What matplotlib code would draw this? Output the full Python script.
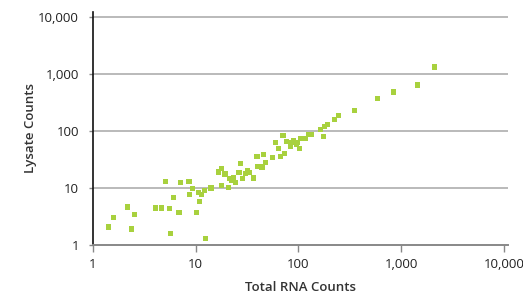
import matplotlib
matplotlib.use("Agg")
import matplotlib.pyplot as plt
from matplotlib.ticker import FixedLocator, NullLocator

# Total RNA counts (x) vs lysate counts (y)
rna_counts = [1.42, 1.59, 2.18, 2.39, 2.55, 4.03, 4.62, 5.05, 5.52, 5.68,
              6.10, 6.88, 7.14, 8.61, 8.65, 9.27, 10.1, 10.8, 10.6, 11.4,
              12.1, 12.5, 14.1, 16.6, 18.0, 17.7, 19.3, 20.8, 21.2, 22.5,
              23.3, 24.4, 26.4, 27.1, 28.4, 30.4, 31.7, 33.4, 36.6, 39.5,
              39.9, 44.2, 45.8, 47.9, 56.0, 60.3, 64.5, 66.7, 70.9, 73.3,
              76.9, 83.5, 86.8, 90.0, 96.7, 98.4, 103, 105, 118, 125,
              133, 163, 177, 179, 193, 225, 248, 355, 585, 841,
              1440, 2100]
lysate_counts = [2.04, 2.98, 4.58, 1.88, 3.34, 4.40, 4.40, 12.9, 4.29, 1.59,
                 6.64, 3.65, 12.3, 12.9, 7.72, 9.57, 3.65, 5.81, 8.13, 7.66,
                 8.82, 1.27, 9.88, 18.9, 21.9, 10.9, 17.4, 10.2, 14.6, 13.5,
                 15.0, 12.4, 18.7, 26.8, 14.3, 17.7, 19.8, 18.3, 14.8, 35.6,
                 23.8, 23.1, 38.3, 27.9, 33.9, 63.3, 49.4, 34.9, 82.7, 39.4,
                 64.1, 53.8, 62.3, 66.7, 57.9, 62.0, 49.2, 72.3, 72.9, 85.1,
                 85.7, 105, 78.5, 119, 130, 157, 187, 231, 365, 484,
                 638, 1322]

ticks = [1, 10, 100, 1000, 10000]
tick_labels = ["1", "10", "100", "1,000", "10,000"]

plt.rcParams['font.family'] = ['Open Sans', 'DejaVu Sans']

fig = plt.figure(figsize=(5.23, 2.97), dpi=100)
ax = fig.add_axes([93 / 523, 1 - 244.6 / 297, (508 - 93) / 523, (244.6 - 12) / 297])

ax.set_xscale('log')
ax.set_yscale('log')
ax.set_xlim(1, 11000)
ax.set_ylim(1, 12300)

# horizontal grid lines
for t in ticks[1:]:
    ax.axhline(t, color='#bababa', lw=1.4, zorder=1)

ax.scatter(rna_counts, lysate_counts, marker='s', s=14, color='#a8d13e',
           edgecolors='none', zorder=3)

ax.xaxis.set_major_locator(FixedLocator(ticks))
ax.yaxis.set_major_locator(FixedLocator(ticks))
ax.xaxis.set_minor_locator(NullLocator())
ax.yaxis.set_minor_locator(NullLocator())
ax.set_xticklabels(tick_labels)
ax.set_yticklabels(tick_labels)

ax.tick_params(axis='x', direction='out', length=5, width=1, color='#888888',
               labelsize=9.5, labelcolor='#222222', pad=5)
ax.tick_params(axis='y', direction='out', length=3, width=1, color='#888888',
               labelsize=9.5, labelcolor='#222222', pad=7)

ax.spines['top'].set_visible(False)
ax.spines['right'].set_visible(False)
ax.spines['left'].set_color('#111111')
ax.spines['left'].set_linewidth(1.2)
ax.spines['bottom'].set_color('#888888')
ax.spines['bottom'].set_linewidth(1.4)

ax.set_xlabel('Total RNA Counts', fontsize=9.5, fontweight='semibold',
              color='#333333', labelpad=7)
ax.set_ylabel('Lysate Counts', fontsize=9.5, fontweight='semibold',
              color='#333333', labelpad=1)

fig.savefig('out.png', dpi=100)
